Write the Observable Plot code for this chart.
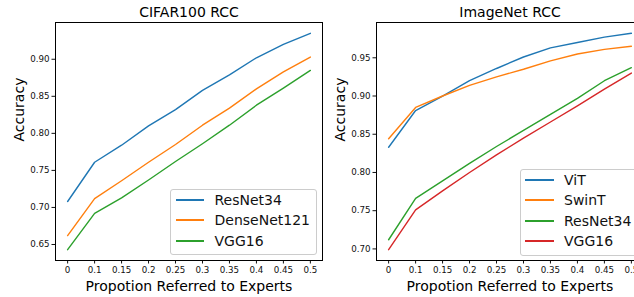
<!DOCTYPE html>
<html>
<head>
<meta charset="utf-8">
<script src="https://cdn.jsdelivr.net/npm/d3@7"></script>
<script src="https://cdn.jsdelivr.net/npm/@observablehq/plot@0.6"></script>
<style>
  html, body { margin: 0; padding: 0; background: #fff; }
  #wrap { position: relative; width: 634px; height: 297px; overflow: hidden; font-family: "DejaVu Sans", sans-serif; }
  .panel { position: absolute; top: 0; width: 330px; height: 297px; }
  .panel svg { max-width: none !important; width: 330px; height: 297px; display: block; }
  .legend { position: absolute; box-sizing: border-box; border: 1px solid #cccccc; border-radius: 3px; background: rgba(255,255,255,0.85); }
  .legend .row { position: absolute; left: 0; height: 20px; line-height: 20px; white-space: nowrap; font-size: 14px; color: #111; }
  .legend .sw { position: absolute; top: 9px; height: 2px; }
  .legend .lab { position: absolute; top: 0; }
</style>
</head>
<body>
<div id="wrap"></div>
<script>
// ---- data ----
const xLabels = ["0", "0.1", "0.15", "0.2", "0.25", "0.3", "0.35", "0.4", "0.45", "0.5"];

const cifarTitle = "CIFAR100 RCC";
const cifarSeries = ["ResNet34", "DenseNet121", "VGG16"];
const cifarResNet34    = [0.708, 0.761, 0.784, 0.810, 0.832, 0.858, 0.879, 0.902, 0.920, 0.935];
const cifarDenseNet121 = [0.662, 0.712, 0.736, 0.761, 0.785, 0.811, 0.834, 0.860, 0.883, 0.903];
const cifarVGG16       = [0.643, 0.692, 0.713, 0.737, 0.762, 0.786, 0.811, 0.838, 0.861, 0.885];
const cifarYTicks = [0.65, 0.70, 0.75, 0.80, 0.85, 0.90];

const imagenetTitle = "ImageNet RCC";
const imagenetSeries = ["ViT", "SwinT", "ResNet34", "VGG16"];
const imagenetViT      = [0.833, 0.881, 0.900, 0.920, 0.936, 0.951, 0.963, 0.970, 0.977, 0.982];
const imagenetSwinT    = [0.844, 0.885, 0.900, 0.914, 0.925, 0.935, 0.946, 0.955, 0.961, 0.965];
const imagenetResNet34 = [0.712, 0.766, 0.789, 0.812, 0.834, 0.855, 0.876, 0.897, 0.920, 0.937];
const imagenetVGG16    = [0.699, 0.751, 0.776, 0.800, 0.823, 0.845, 0.866, 0.887, 0.909, 0.930];
const imagenetYTicks = [0.70, 0.75, 0.80, 0.85, 0.90, 0.95];

const xTitle = "Propotion Referred to Experts";
const yTitle = "Accuracy";
const palette = ["#1f77b4", "#ff7f0e", "#2ca02c", "#d62728"];

// ---- drawing ----
const FONT = "DejaVu Sans";
const wrap = document.getElementById("wrap");

function panel({title, names, values, yTicks, left, legend}) {
  const rows = names.flatMap((name, s) => values[s].map((v, i) => ({i, v, name})));
  const [lo, hi] = d3.extent(rows, d => d.v);
  const pad = (hi - lo) * 0.05;
  const n = xLabels.length;
  const colors = palette.slice(0, names.length);
  const chart = Plot.plot({
    width: 330,
    height: 297,
    marginLeft: 55,
    marginRight: 8,
    marginTop: 22,
    marginBottom: 37,
    style: {fontFamily: FONT, fontSize: "8.7px", color: "#111", background: "transparent", overflow: "visible", maxWidth: "none"},
    x: {domain: [-0.05 * (n - 1), (n - 1) * 1.05], ticks: d3.range(n), tickFormat: i => xLabels[i], tickSize: 3.5, tickPadding: 2.5, label: null},
    y: {domain: [lo - pad, hi + pad], ticks: yTicks, tickFormat: d3.format(".2f"), tickSize: 3.5, tickPadding: 2.5, label: null},
    color: {domain: names, range: colors},
    marks: [
      Plot.line(rows, {x: "i", y: "v", z: "name", stroke: "name", strokeWidth: 1.4}),
      Plot.frame({stroke: "#000", strokeWidth: 1}),
      Plot.text([title], {text: d => d, frameAnchor: "top", lineAnchor: "middle", dy: -9.5, fontSize: 14, fill: "#000"}),
      Plot.text([xTitle], {text: d => d, frameAnchor: "bottom", lineAnchor: "middle", dy: 26, fontSize: 14, fill: "#000"}),
      Plot.text([yTitle], {text: d => d, frameAnchor: "left", lineAnchor: "middle", dx: -36, rotate: -90, fontSize: 14, fill: "#000"})
    ]
  });
  const div = document.createElement("div");
  div.className = "panel";
  div.style.left = left + "px";
  div.appendChild(chart);
  wrap.appendChild(div);

  // legend
  const lg = document.createElement("div");
  lg.className = "legend";
  lg.style.left = legend.left + "px";
  lg.style.top = legend.top + "px";
  lg.style.width = legend.width + "px";
  lg.style.height = (names.length * 20.4 + 5.5) + "px";
  names.forEach((name, k) => {
    const r = document.createElement("div");
    r.className = "row";
    r.style.top = (0.3 + k * 20.4) + "px";
    const sw = document.createElement("div");
    sw.className = "sw";
    sw.style.left = "4.5px";
    sw.style.width = "28.5px";
    sw.style.background = colors[k];
    const lab = document.createElement("div");
    lab.className = "lab";
    lab.style.left = "43.5px";
    lab.textContent = name;
    r.appendChild(sw);
    r.appendChild(lab);
    lg.appendChild(r);
  });
  wrap.appendChild(lg);
}

panel({
  title: cifarTitle,
  names: cifarSeries,
  values: [cifarResNet34, cifarDenseNet121, cifarVGG16],
  yTicks: cifarYTicks,
  left: 0,
  legend: {left: 170, top: 188.5, width: 147}
});
panel({
  title: imagenetTitle,
  names: imagenetSeries,
  values: [imagenetViT, imagenetSwinT, imagenetResNet34, imagenetVGG16],
  yTicks: imagenetYTicks,
  left: 321,
  legend: {left: 519.5, top: 168.5, width: 125}
});
</script>
</body>
</html>
